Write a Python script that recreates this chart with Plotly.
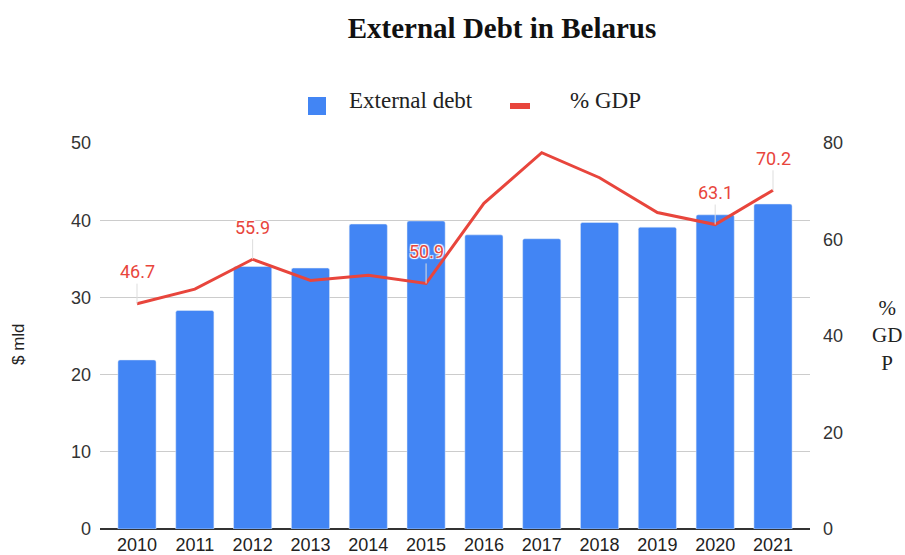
import plotly.graph_objects as go

years = ["2010", "2011", "2012", "2013", "2014", "2015", "2016", "2017", "2018", "2019", "2020", "2021"]
external_debt = [21.9, 28.3, 34.0, 33.8, 39.5, 39.9, 38.1, 37.6, 39.7, 39.1, 40.7, 42.1]
pct_gdp = [46.7, 49.7, 55.9, 51.5, 52.6, 50.9, 67.5, 78.0, 72.8, 65.6, 63.1, 70.2]
labeled_years = ["2010", "2012", "2015", "2020", "2021"]

RED = "#E8453C"
BLUE = "#4285F4"
SERIF = "Liberation Serif, Times New Roman, serif"
SANS = "Liberation Sans, Arial, sans-serif"

W, H = 905, 555
L, R, T, B = 100, 95, 143, 26
PW, PH = W - L - R, H - T - B


def px_x(x):
    return (x - L) / PW


def px_y(y):
    return (H - B - y) / PH


fig = go.Figure()
fig.add_trace(go.Bar(
    x=list(range(len(years))), y=external_debt, name="External debt",
    marker=dict(color=BLUE, cornerradius=2), width=0.66, yaxis="y", showlegend=False,
))
fig.add_trace(go.Scatter(
    x=list(range(len(years))), y=pct_gdp, name="% GDP", mode="lines",
    line=dict(color=RED, width=3), yaxis="y2", showlegend=False,
))

halo = "1px 1px 1px white, -1px -1px 1px white, 1px -1px 1px white, -1px 1px 1px white"
for yr in labeled_years:
    i = years.index(yr)
    v = pct_gdp[i]
    fig.add_annotation(
        x=i, y=v, xref="x", yref="y2", text=f"{v:.1f}",
        showarrow=True, arrowhead=0, arrowwidth=1, arrowcolor="#dddddd",
        ax=0, ay=-32, yanchor="middle", standoff=0,
        font=dict(family="Roboto, Arial", size=18, color=RED, shadow=halo),
    )

# legend (drawn manually to match layout)
legend_items = [("External debt", 347, 100), ("% GDP", 568, 100)]
fig.add_shape(type="rect", xref="paper", yref="paper",
              x0=px_x(308), x1=px_x(326), y0=px_y(115), y1=px_y(97),
              fillcolor=BLUE, line=dict(width=0), layer="above")
fig.add_shape(type="rect", xref="paper", yref="paper",
              x0=px_x(510), x1=px_x(530), y0=px_y(109), y1=px_y(103),
              fillcolor=RED, line=dict(width=0), layer="above")
for txt, xl, yc in legend_items:
    fig.add_annotation(text=txt, xref="paper", yref="paper", x=px_x(xl), y=px_y(yc),
                       xanchor="left", yanchor="middle", showarrow=False,
                       font=dict(family=SERIF, size=23, color="#222222"))

# axis titles
fig.add_annotation(
    text="%<br>GD<br>P", xref="paper", yref="paper", x=px_x(887), y=px_y(335),
    xanchor="center", yanchor="middle", showarrow=False, align="center",
    font=dict(family=SERIF, size=21, color="#222222"),
)
fig.add_annotation(
    text="$ mld", xref="paper", yref="paper", x=px_x(18), y=px_y(344),
    xanchor="center", yanchor="middle", showarrow=False, textangle=-90,
    font=dict(family=SANS, size=17, color="#222222"),
)

fig.update_layout(
    width=W, height=H,
    margin=dict(l=L, r=R, t=T, b=B),
    paper_bgcolor="white", plot_bgcolor="white",
    title=dict(text="<b>External Debt in Belarus</b>", x=502 / W, xanchor="center", xref="container",
               y=1 - 28 / H, yanchor="middle", yref="container",
               font=dict(family=SERIF, size=29, color="#111111")),
    showlegend=False,
    xaxis=dict(
        tickmode="array", tickvals=list(range(len(years))), ticktext=years,
        range=[-0.64, 11.64], showgrid=False, ticks="", automargin=False,
        ticklabelstandoff=3,
        tickfont=dict(family=SANS, size=18, color="#222222"),
    ),
    yaxis=dict(
        range=[0, 50], dtick=10, showgrid=True, gridcolor="#cccccc", gridwidth=1,
        zeroline=True, zerolinecolor="#333333", zerolinewidth=1.5, automargin=False,
        ticklabelstandoff=8,
        tickfont=dict(family=SANS, size=18, color="#333333"),
    ),
    yaxis2=dict(
        range=[0, 80], dtick=20, overlaying="y", side="right", showgrid=False,
        zeroline=False, automargin=False, ticklabelstandoff=12,
        tickfont=dict(family=SANS, size=18, color="#333333"),
    ),
)

fig.write_html("out.html")
